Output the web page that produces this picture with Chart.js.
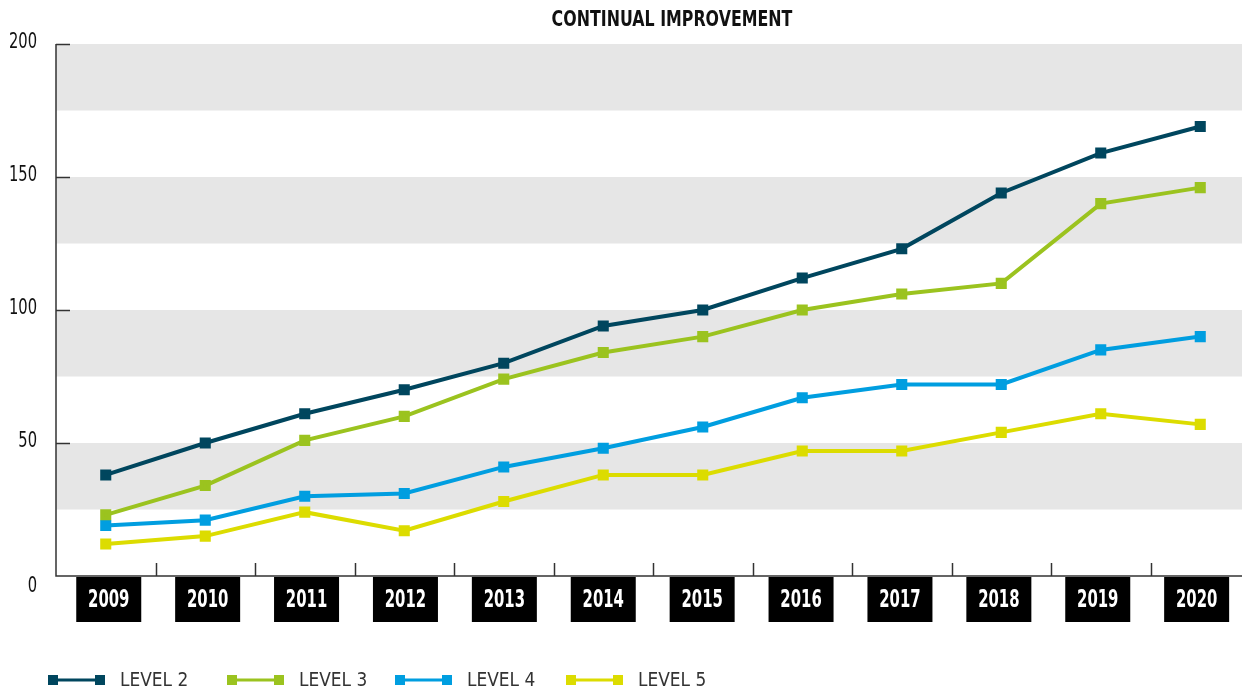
<!DOCTYPE html>
<html>
<head>
<meta charset="utf-8">
<script src="https://cdn.jsdelivr.net/npm/chart.js@4"></script>
<style>
  html, body { margin: 0; padding: 0; background: #fff; overflow: hidden; }
  #wrap { width: 1242px; height: 692px; overflow: hidden; }
</style>
</head>
<body>
<div id="wrap"><canvas id="chart" width="1259" height="692"></canvas></div>
<script>
const years = ['2009','2010','2011','2012','2013','2014','2015','2016','2017','2018','2019','2020'];
const level2 = [38, 50, 61, 70, 80, 94, 100, 112, 123, 144, 159, 169];
const level3 = [23, 34, 51, 60, 74, 84, 90, 100, 106, 110, 140, 146];
const level4 = [19, 21, 30, 31, 41, 48, 56, 67, 72, 72, 85, 90];
const level5 = [12, 15, 24, 17, 28, 38, 38, 47, 47, 54, 61, 57];
const seriesNames = ['LEVEL 2', 'LEVEL 3', 'LEVEL 4', 'LEVEL 5'];
const seriesColors = ['#00465e', '#9bc31f', '#009ee0', '#dcdc00'];
const yTicks = [0, 50, 100, 150, 200];
const bands = [[25, 50], [75, 100], [125, 150], [175, 200]];
const chartTitle = 'CONTINUAL IMPROVEMENT';

const family = '"DejaVu Sans", sans-serif';

// draw text squeezed horizontally to mimic a condensed face
function narrowText(ctx, txt, x, y, sx) {
  ctx.save();
  ctx.translate(x, y);
  ctx.scale(sx, 1);
  ctx.fillText(txt, 0, 0);
  ctx.restore();
}

const decor = {
  id: 'decor',
  beforeDatasetsDraw(c) {
    const ctx = c.ctx, a = c.chartArea, y = c.scales.y, x = c.scales.x;
    ctx.save();
    ctx.fillStyle = '#e6e6e6';
    bands.forEach(b => {
      const t = y.getPixelForValue(b[1]), btm = y.getPixelForValue(b[0]);
      ctx.fillRect(a.left, t, c.width - a.left, btm - t);
    });
    ctx.strokeStyle = '#333';
    ctx.lineWidth = 1.5;
    ctx.beginPath();
    ctx.moveTo(a.left, a.top);
    ctx.lineTo(a.left, a.bottom);
    ctx.lineTo(c.width, a.bottom);
    ctx.stroke();
    yTicks.forEach(v => {
      if (v === 0) return;
      const py = Math.round(y.getPixelForValue(v)) + 0.5;
      ctx.beginPath();
      ctx.moveTo(a.left, py);
      ctx.lineTo(a.left + 14, py);
      ctx.stroke();
    });
    for (let i = 1; i < years.length; i++) {
      const px = Math.round((x.getPixelForValue(i - 1) + x.getPixelForValue(i)) / 2) + 0.5;
      ctx.beginPath();
      ctx.moveTo(px, a.bottom);
      ctx.lineTo(px, a.bottom - 13);
      ctx.stroke();
    }
    // y labels
    ctx.fillStyle = '#111';
    ctx.font = '21px ' + family;
    ctx.textAlign = 'right';
    ctx.textBaseline = 'middle';
    yTicks.forEach(v => {
      const py = y.getPixelForValue(v) + (v === 0 ? 11 : -1);
      narrowText(ctx, String(v), 37, py, 0.7);
    });
    ctx.restore();
  },
  afterDraw(c) {
    const ctx = c.ctx, a = c.chartArea, x = c.scales.x;
    ctx.save();
    ctx.textAlign = 'center';
    ctx.textBaseline = 'middle';
    years.forEach((yr, i) => {
      const cx = x.getPixelForValue(i) + 3 - i * 0.6;
      ctx.fillStyle = '#000';
      ctx.fillRect(cx - 32.5, a.bottom + 1, 65, 45);
      ctx.fillStyle = '#fff';
      ctx.font = 'bold 24px ' + family;
      narrowText(ctx, yr, cx, a.bottom + 25, 0.62);
    });
    ctx.fillStyle = '#111';
    ctx.font = 'bold 22px ' + family;
    narrowText(ctx, chartTitle, 672, 20, 0.72);

    // legend
    const lx = [48, 227, 395, 566], ly = 680;
    ctx.textAlign = 'left';
    ctx.font = '20px ' + family;
    seriesNames.forEach((n, i) => {
      ctx.strokeStyle = seriesColors[i];
      ctx.fillStyle = seriesColors[i];
      ctx.lineWidth = 3;
      ctx.beginPath();
      ctx.moveTo(lx[i] + 5, ly);
      ctx.lineTo(lx[i] + 52, ly);
      ctx.stroke();
      ctx.fillRect(lx[i], ly - 5, 10, 10);
      ctx.fillRect(lx[i] + 47, ly - 5, 10, 10);
      ctx.fillStyle = '#333';
      narrowText(ctx, n, lx[i] + 72, ly + 1, 0.85);
    });
    ctx.restore();
  }
};

const datasets = [level2, level3, level4, level5].map((d, i) => ({
  label: seriesNames[i],
  data: d,
  borderColor: seriesColors[i],
  backgroundColor: seriesColors[i],
  borderWidth: 4,
  pointStyle: 'rect',
  pointRadius: 5,
  pointHoverRadius: 5,
  tension: 0,
  fill: false
}));

new Chart(document.getElementById('chart'), {
  type: 'line',
  data: { labels: years, datasets: datasets },
  plugins: [decor],
  options: {
    responsive: false,
    animation: false,
    clip: false,
    layout: { padding: { top: 44, right: 0, left: 0, bottom: 0 } },
    plugins: { legend: { display: false }, title: { display: false }, tooltip: { enabled: false } },
    scales: {
      x: {
        offset: true,
        grid: { display: false },
        border: { display: false },
        ticks: { display: false },
        afterFit(s) { s.height = 116; }
      },
      y: {
        min: 0,
        max: 200,
        afterBuildTicks(s) { s.ticks = yTicks.map(v => ({ value: v })); },
        grid: { display: false },
        border: { display: false },
        ticks: { display: false },
        afterFit(s) { s.width = 56; }
      }
    }
  }
});
</script>
</body>
</html>
